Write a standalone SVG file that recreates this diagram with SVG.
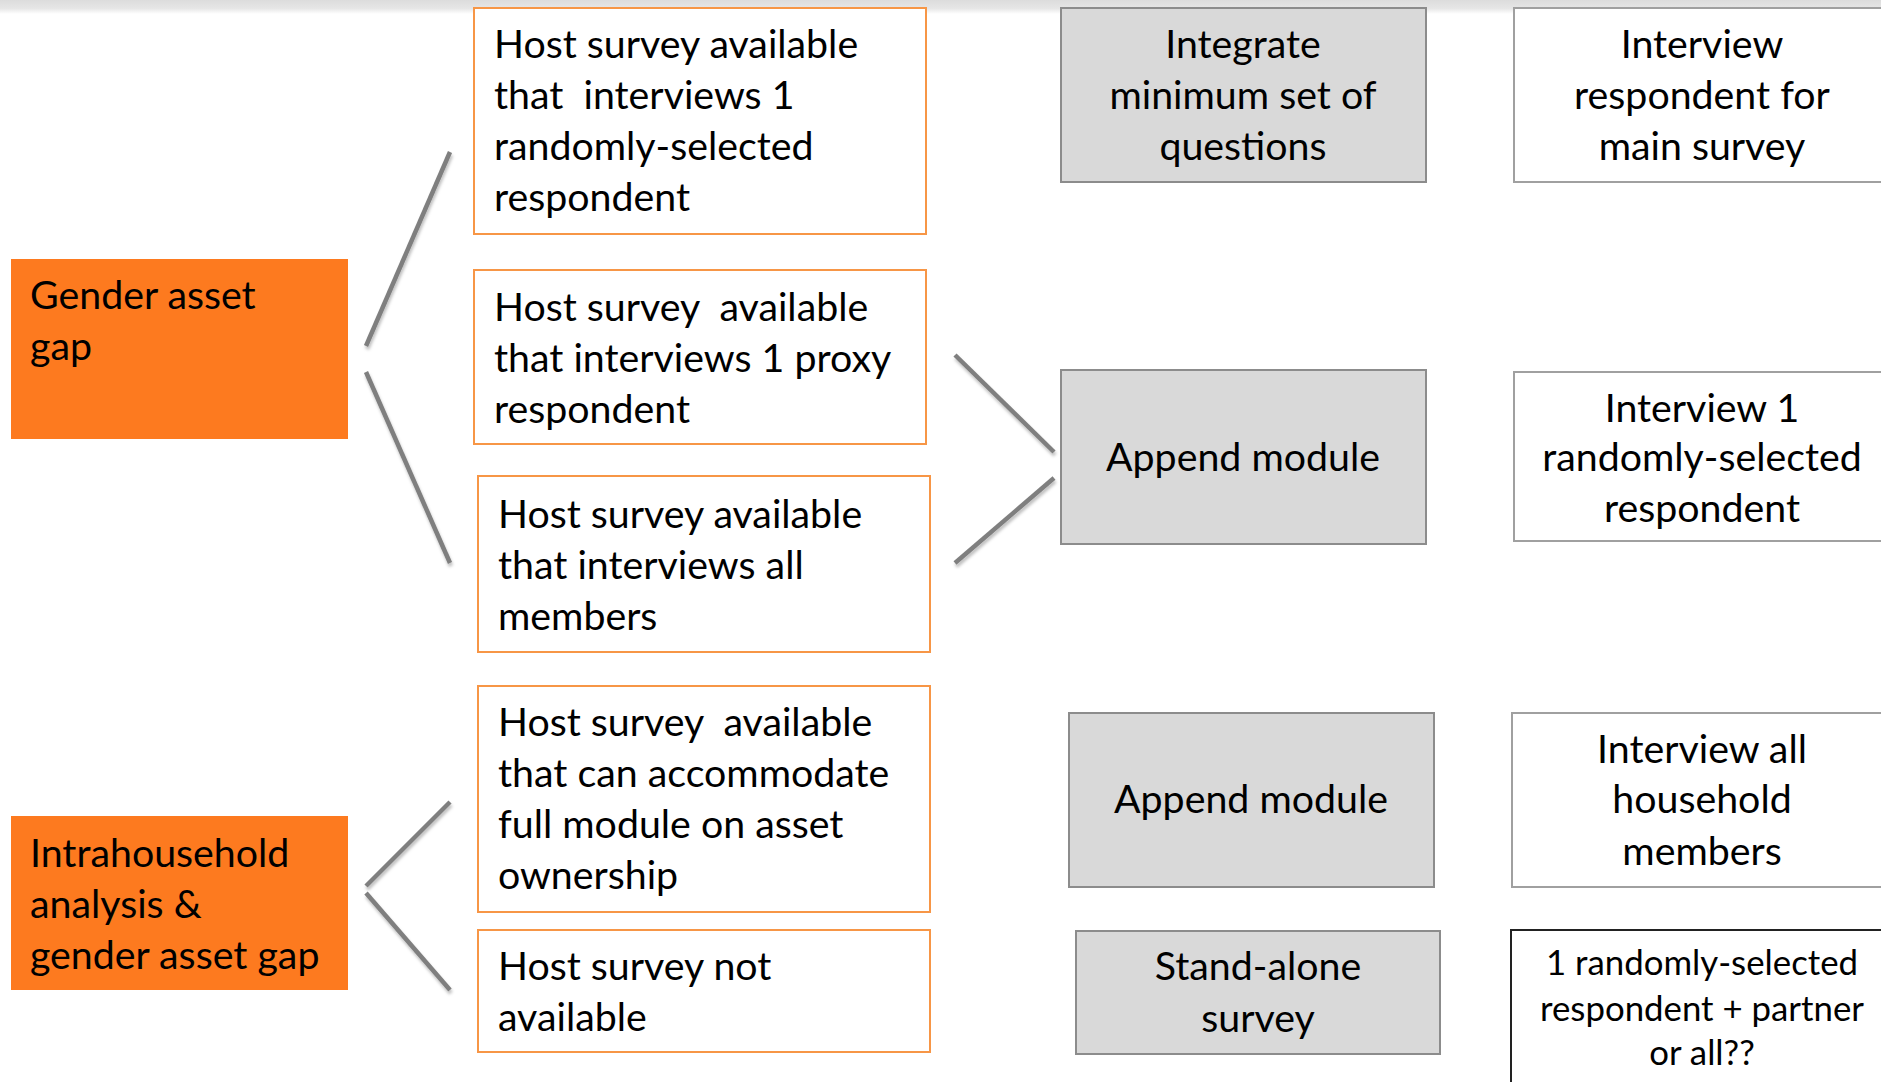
<svg xmlns="http://www.w3.org/2000/svg" width="1881" height="1082" viewBox="0 0 1881 1082">
<style>
text{font-family:Lato,"Liberation Sans",sans-serif;font-size:39.3px;fill:#000}
.c{text-anchor:middle}
.sm{font-size:34.8px}
.goal{fill:#fd7a1f}
.host{fill:#fff;stroke:#f79646;stroke-width:2}
.act{fill:#d9d9d9;stroke:#8c8c8c;stroke-width:2}
.res{fill:#fff;stroke:#a0a0a0;stroke-width:2}
.resb{fill:#fff;stroke:#222;stroke-width:2}
#connectors line{stroke:#7f7f7f;stroke-width:4.5;filter:url(#sh)}
</style>
<defs>
<linearGradient id="top" x1="0" y1="0" x2="0" y2="1"><stop offset="0" stop-color="#dcdcdc"/><stop offset="0.6" stop-color="#e6e6e6"/><stop offset="1" stop-color="#fff"/></linearGradient>
<filter id="sh" x="-20%" y="-50%" width="140%" height="200%"><feDropShadow dx="1" dy="3" stdDeviation="1.5" flood-color="#000" flood-opacity="0.25"/></filter>
</defs>
<rect width="1881" height="1082" fill="#fff"/>
<rect width="1881" height="14" fill="url(#top)"/>
<g id="connectors">
<line x1="366" y1="346" x2="450" y2="152"/>
<line x1="366" y1="355" x2="450" y2="355" style="stroke-width:6"/>
<line x1="366" y1="372" x2="450" y2="563"/>
<line x1="366" y1="886" x2="450" y2="802"/>
<line x1="366" y1="893" x2="450" y2="990"/>
<line x1="955" y1="96" x2="1054" y2="96"/>
<line x1="955" y1="355" x2="1054" y2="452"/>
<line x1="955" y1="563" x2="1054" y2="478"/>
<line x1="955" y1="816" x2="1061" y2="816"/>
<line x1="955" y1="997" x2="1060" y2="997"/>
<line x1="1426" y1="96" x2="1514" y2="96"/>
<line x1="1426" y1="457" x2="1514" y2="457"/>
<line x1="1434" y1="816" x2="1511" y2="816"/>
<line x1="1441" y1="993" x2="1511" y2="993"/>
</g>
<g id="goal1"><rect class="goal" x="11" y="259" width="337" height="180"/><text x="30" y="309">Gender asset</text><text x="30" y="360">gap</text></g>
<g id="goal2"><rect class="goal" x="11" y="816" width="337" height="174"/><text x="30" y="867">Intrahousehold</text><text x="30" y="918">analysis &amp;</text><text x="30" y="969">gender asset gap</text></g>
<g id="host1"><rect class="host" x="474" y="8" width="452" height="226"/><text x="494" y="58">Host survey available</text><text x="494" y="109" xml:space="preserve">that  interviews 1</text><text x="494" y="160">randomly-selected</text><text x="494" y="211">respondent</text></g>
<g id="host2"><rect class="host" x="474" y="270" width="452" height="174"/><text x="494" y="321" xml:space="preserve">Host survey  available</text><text x="494" y="372">that interviews 1 proxy</text><text x="494" y="423">respondent</text></g>
<g id="host3"><rect class="host" x="478" y="476" width="452" height="176"/><text x="498" y="528">Host survey available</text><text x="498" y="579">that interviews all</text><text x="498" y="630">members</text></g>
<g id="host4"><rect class="host" x="478" y="686" width="452" height="226"/><text x="498" y="736" xml:space="preserve">Host survey  available</text><text x="498" y="787">that can accommodate</text><text x="498" y="838">full module on asset</text><text x="498" y="889">ownership</text></g>
<g id="host5"><rect class="host" x="478" y="930" width="452" height="122"/><text x="498" y="980">Host survey not</text><text x="498" y="1031">available</text></g>
<g id="act1"><rect class="act" x="1061" y="8" width="365" height="174"/><text class="c" x="1243" y="58">Integrate</text><text class="c" x="1243" y="109">minimum set of</text><text class="c" x="1243" y="160">questions</text></g>
<g id="act2"><rect class="act" x="1061" y="370" width="365" height="174"/><text class="c" x="1243" y="471">Append module</text></g>
<g id="act3"><rect class="act" x="1069" y="713" width="365" height="174"/><text class="c" x="1251" y="813">Append module</text></g>
<g id="act4"><rect class="act" x="1076" y="931" width="364" height="123"/><text class="c" x="1258" y="980">Stand-alone</text><text class="c" x="1258" y="1032">survey</text></g>
<g id="res1"><rect class="res" x="1514" y="8" width="380" height="174"/><text class="c" x="1702" y="58">Interview</text><text class="c" x="1702" y="109">respondent for</text><text class="c" x="1702" y="160">main survey</text></g>
<g id="res2"><rect class="res" x="1514" y="372" width="380" height="169"/><text class="c" x="1702" y="422">Interview 1</text><text class="c" x="1702" y="471">randomly-selected</text><text class="c" x="1702" y="522">respondent</text></g>
<g id="res3"><rect class="res" x="1512" y="713" width="380" height="174"/><text class="c" x="1702" y="763">Interview all</text><text class="c" x="1702" y="813">household</text><text class="c" x="1702" y="865">members</text></g>
<g id="res4"><rect class="resb" x="1511" y="930" width="380" height="170"/><text class="c sm" x="1702" y="975">1 randomly-selected</text><text class="c sm" x="1702" y="1021">respondent + partner</text><text class="c sm" x="1702" y="1065">or all??</text></g>
</svg>
